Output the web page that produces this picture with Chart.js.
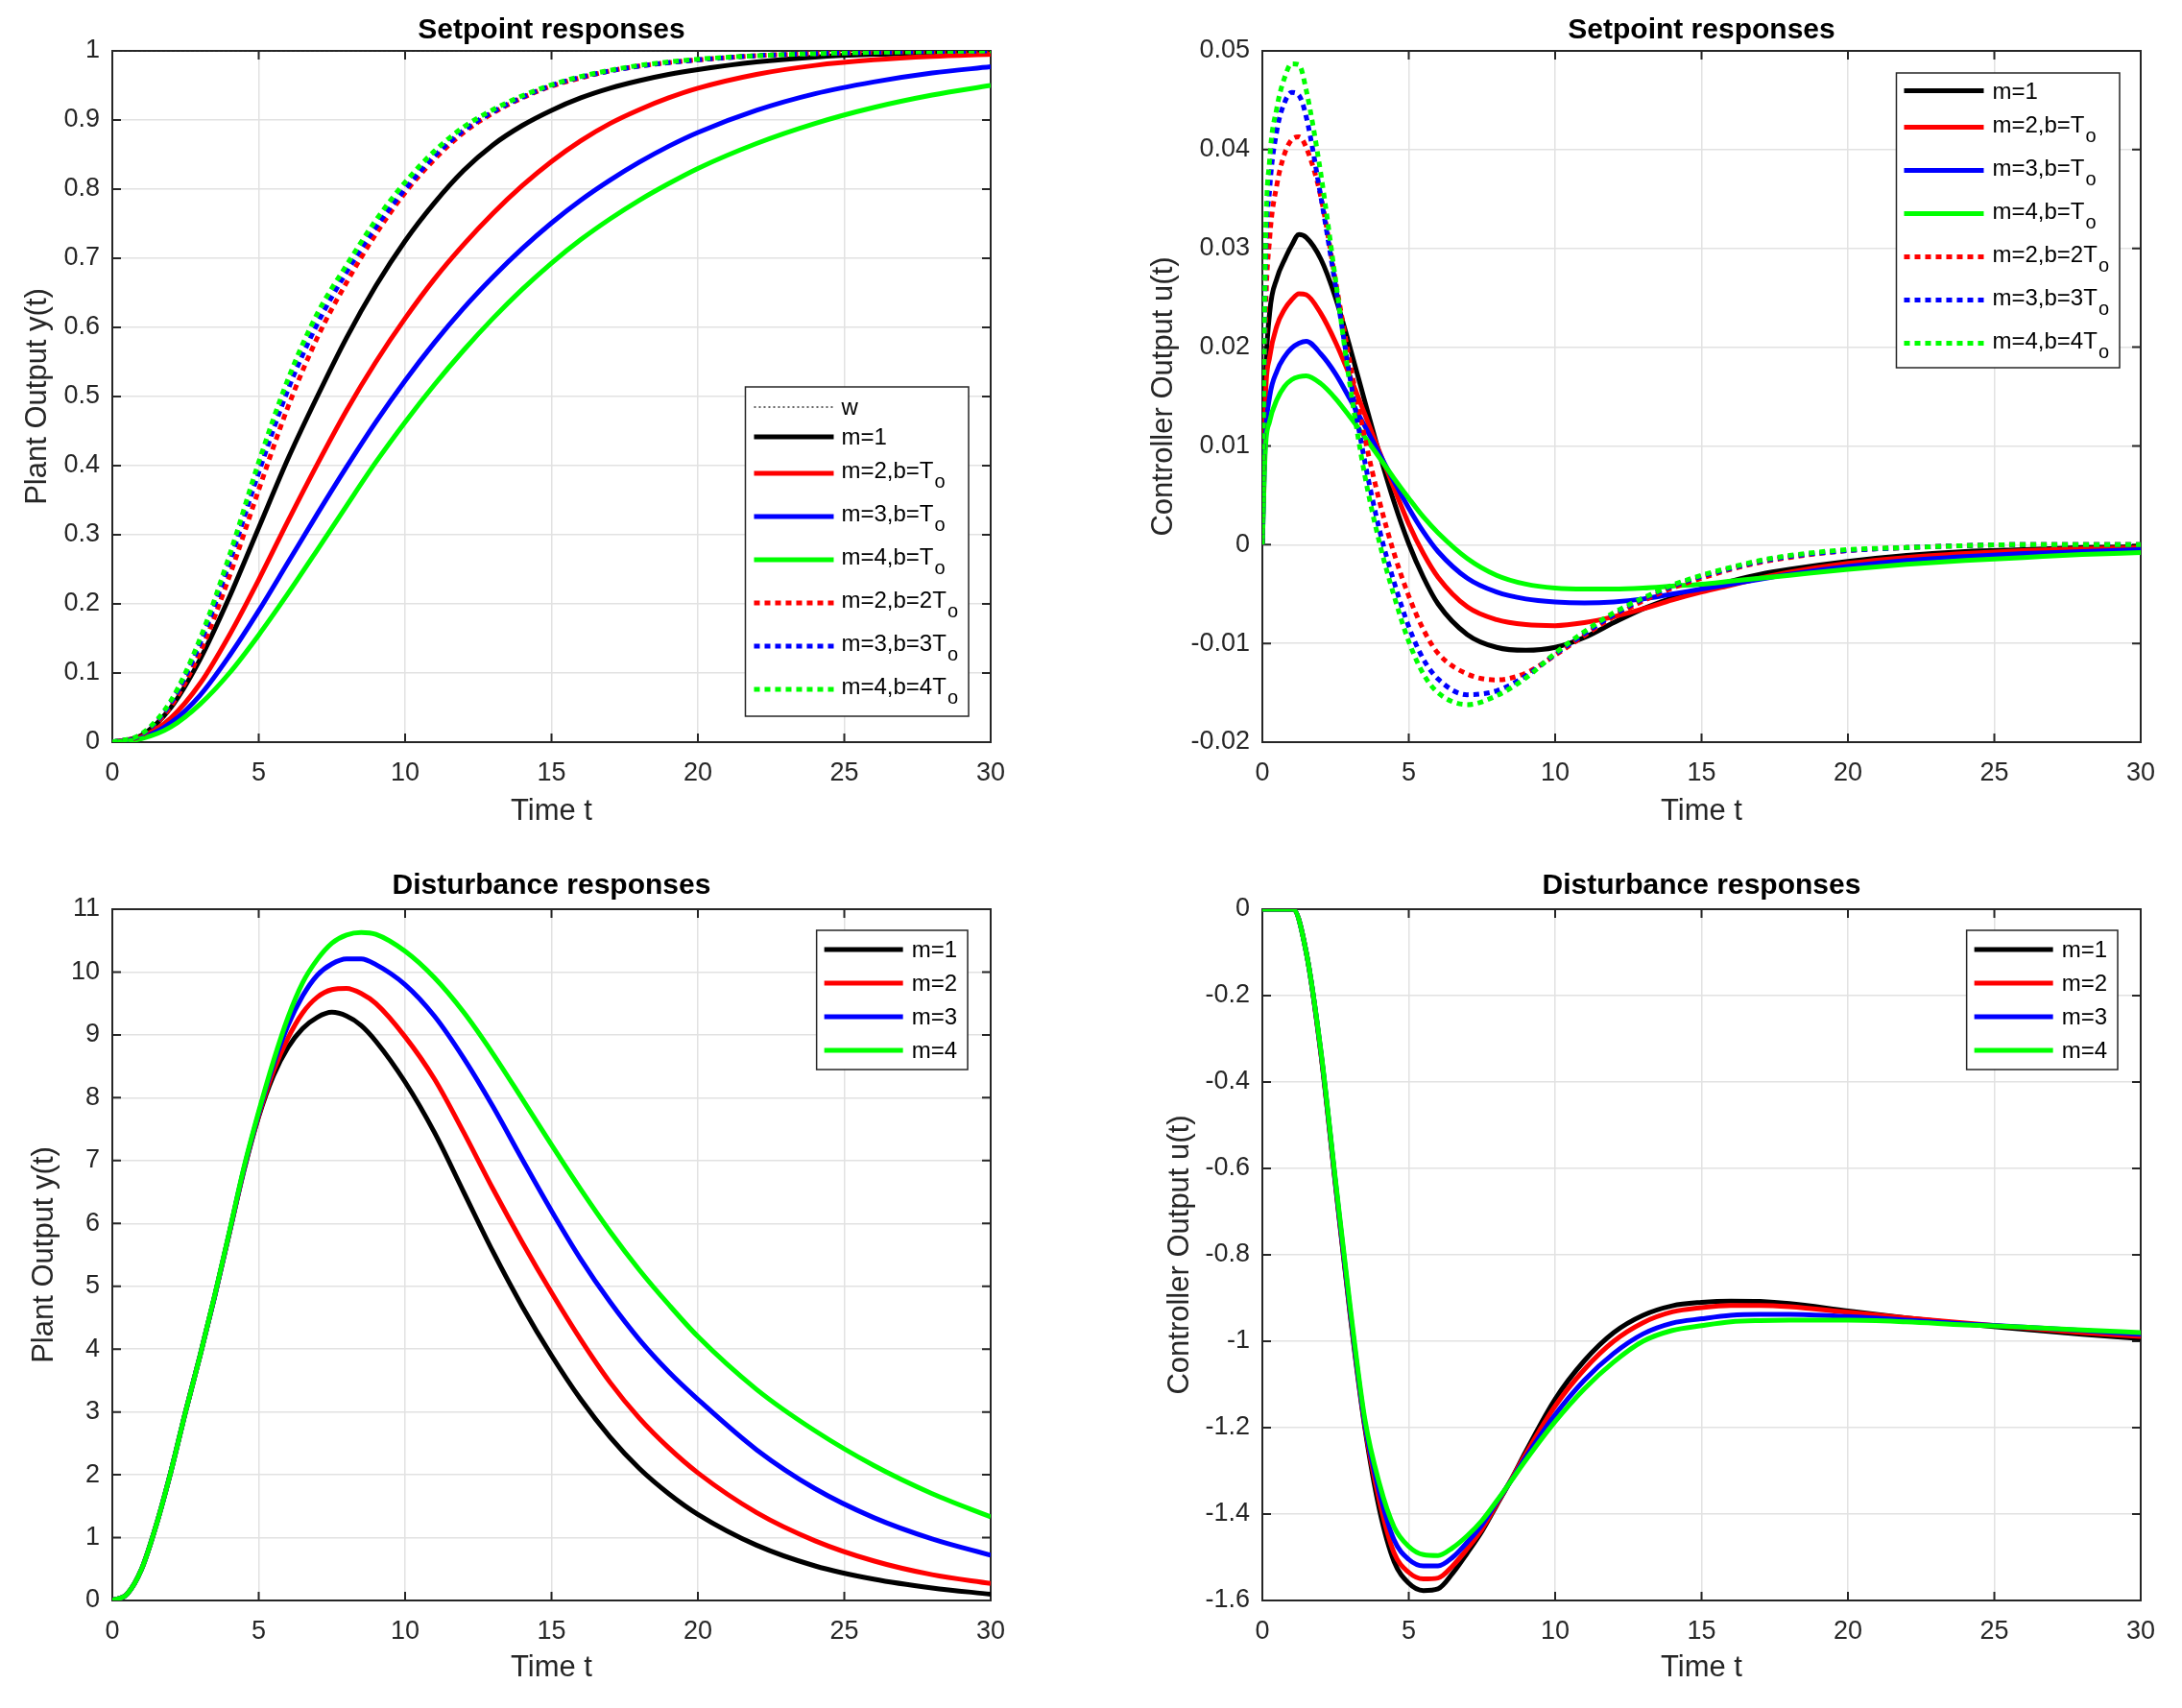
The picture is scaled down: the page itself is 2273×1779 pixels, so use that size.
<!DOCTYPE html>
<html><head><meta charset="utf-8">
<script src="https://cdn.jsdelivr.net/npm/chart.js@4.4.0/dist/chart.umd.min.js"></script>
<style>
html,body{margin:0;padding:0;background:#fff;}
body{width:2273px;height:1779px;position:relative;overflow:hidden;}
canvas{position:absolute;}
</style></head><body>
<canvas id="c1" width="1136" height="889" style="left:0px;top:0px"></canvas>
<canvas id="c2" width="1137" height="889" style="left:1136px;top:0px"></canvas>
<canvas id="c3" width="1136" height="890" style="left:0px;top:889px"></canvas>
<canvas id="c4" width="1137" height="890" style="left:1136px;top:889px"></canvas>
<script>
// ---------------- DATA ----------------
// Setpoint responses: plant output y(t)
const tSet = [0,1,2,3,4,5,6,7,8,9,10,11,12,13,14,15,16,17,18,19,20,22,24,26,28,30];
const ySetW      = [1,1,1,1,1,1,1,1,1,1,1,1,1,1,1,1,1,1,1,1,1,1,1,1,1,1];
const ySetM1     = [0,0.01,0.05,0.12,0.21,0.31,0.41,0.50,0.585,0.66,0.725,0.78,0.827,0.864,0.892,0.914,0.932,0.946,0.957,0.966,0.973,0.984,0.991,0.995,0.997,0.998];
const ySetM2b1   = [0,0.008,0.035,0.085,0.155,0.235,0.32,0.402,0.48,0.55,0.613,0.67,0.72,0.765,0.805,0.84,0.87,0.895,0.915,0.932,0.946,0.966,0.979,0.987,0.992,0.995];
const ySetM3b1   = [0,0.006,0.028,0.068,0.125,0.19,0.26,0.33,0.398,0.463,0.523,0.578,0.628,0.673,0.714,0.751,0.784,0.813,0.839,0.862,0.882,0.914,0.938,0.955,0.968,0.977];
const ySetM4b1   = [0,0.005,0.022,0.055,0.10,0.155,0.215,0.278,0.342,0.405,0.463,0.517,0.567,0.613,0.655,0.693,0.727,0.757,0.784,0.808,0.83,0.866,0.895,0.918,0.936,0.95];
const ySetM2b2   = [0,0.01,0.052,0.13,0.24,0.365,0.485,0.585,0.665,0.735,0.795,0.843,0.882,0.91,0.932,0.949,0.961,0.971,0.978,0.983,0.987,0.993,0.996,0.998,0.999,1.0];
const ySetM3b3   = [0,0.011,0.057,0.143,0.26,0.39,0.51,0.605,0.68,0.745,0.80,0.848,0.885,0.912,0.933,0.95,0.962,0.971,0.978,0.983,0.987,0.993,0.996,0.998,0.999,1.0];
const ySetM4b4   = [0,0.012,0.06,0.15,0.27,0.405,0.525,0.62,0.69,0.755,0.81,0.855,0.89,0.915,0.935,0.951,0.963,0.972,0.979,0.984,0.988,0.993,0.996,0.998,0.999,1.0];

// Setpoint responses: controller output u(t)
const tCtl = [0,0.1,0.25,0.5,0.75,1,1.25,1.5,2,2.5,3,3.5,4,4.5,5,5.5,6,7,8,9,10,11,12,13,14,15,16,17,18,20,22,24,26,28,30];
const uSetM1   = [0,0.016,0.0235,0.027,0.0288,0.0303,0.0314,0.0311,0.0289,0.025,0.0199,0.0145,0.0092,0.0043,0.0001,-0.0033,-0.006,-0.0091,-0.0104,-0.0107,-0.0104,-0.0094,-0.0079,-0.0065,-0.0054,-0.0045,-0.0037,-0.003,-0.0025,-0.0017,-0.0011,-0.0007,-0.0005,-0.0003,-0.0002];
const uSetM2b1 = [0,0.0145,0.019,0.0222,0.0238,0.0248,0.0254,0.0253,0.0234,0.0205,0.017,0.0132,0.0094,0.0057,0.0021,-0.0009,-0.0033,-0.0063,-0.0076,-0.0081,-0.0082,-0.0079,-0.0073,-0.0065,-0.0056,-0.0048,-0.0041,-0.0034,-0.0028,-0.0019,-0.0013,-0.0009,-0.0006,-0.0004,-0.0003];
const uSetM3b1 = [0,0.0105,0.015,0.0176,0.019,0.0199,0.0204,0.0206,0.0193,0.0173,0.0147,0.012,0.0092,0.0064,0.0037,0.0013,-0.0007,-0.0034,-0.0048,-0.0055,-0.0058,-0.0059,-0.0058,-0.0055,-0.005,-0.0045,-0.004,-0.0035,-0.003,-0.0022,-0.0016,-0.0012,-0.0009,-0.0007,-0.0005];
const uSetM4b1 = [0,0.0095,0.0125,0.0147,0.016,0.0167,0.017,0.0171,0.0163,0.0148,0.0129,0.0109,0.0088,0.0067,0.0047,0.0028,0.0012,-0.0014,-0.0031,-0.004,-0.0044,-0.0045,-0.0045,-0.0044,-0.0042,-0.004,-0.0037,-0.0034,-0.0031,-0.0025,-0.002,-0.0016,-0.0013,-0.001,-0.0008];
const uSetM2b2 = [0,0.022,0.031,0.0365,0.0395,0.041,0.0413,0.0402,0.0352,0.0267,0.0183,0.0108,0.0044,-0.0009,-0.0052,-0.0086,-0.011,-0.0131,-0.0137,-0.013,-0.0112,-0.0092,-0.0073,-0.0057,-0.0044,-0.0034,-0.0025,-0.0018,-0.0013,-0.0006,-0.0003,-0.0001,0,0,0];
const uSetM3b3 = [0,0.027,0.036,0.042,0.0447,0.0458,0.0455,0.0433,0.0352,0.0262,0.0168,0.0084,0.0015,-0.0038,-0.0083,-0.0116,-0.0136,-0.0152,-0.0148,-0.0133,-0.0111,-0.009,-0.0071,-0.0055,-0.0042,-0.0032,-0.0024,-0.0017,-0.0012,-0.0006,-0.0003,-0.0001,0,0,0];
const uSetM4b4 = [0,0.029,0.039,0.0443,0.0472,0.0487,0.0486,0.046,0.0375,0.0268,0.016,0.007,0.0002,-0.0052,-0.0098,-0.0131,-0.015,-0.0162,-0.0153,-0.0135,-0.011,-0.0088,-0.0069,-0.0054,-0.0041,-0.0031,-0.0023,-0.0016,-0.0011,-0.0005,-0.0003,-0.0001,0,0,0];

// Disturbance responses: plant output y(t)
const tDist = [0,0.5,1,1.5,2,2.5,3,3.5,4,4.5,5,5.5,6,6.5,7,7.5,8,8.5,9,10,11,12,13,14,15,16,17,18,19,20,22,24,26,28,30];
const yDistM1 = [0,0.1,0.5,1.2,2.05,3.0,3.9,4.85,5.85,6.85,7.7,8.35,8.8,9.1,9.28,9.36,9.3,9.15,8.9,8.25,7.45,6.5,5.55,4.68,3.9,3.2,2.6,2.1,1.7,1.37,0.88,0.55,0.34,0.2,0.1];
const yDistM2 = [0,0.1,0.5,1.2,2.05,3.0,3.9,4.85,5.85,6.87,7.72,8.42,8.95,9.35,9.6,9.72,9.74,9.66,9.5,8.97,8.3,7.45,6.55,5.7,4.9,4.15,3.47,2.9,2.43,2.03,1.4,0.95,0.63,0.41,0.27];
const yDistM3 = [0,0.1,0.5,1.2,2.05,3.0,3.9,4.85,5.86,6.88,7.75,8.52,9.15,9.62,9.95,10.13,10.21,10.21,10.12,9.8,9.3,8.63,7.86,7.02,6.2,5.43,4.75,4.15,3.64,3.2,2.4,1.78,1.32,0.98,0.72];
const yDistM4 = [0,0.1,0.5,1.2,2.05,3.0,3.9,4.86,5.87,6.9,7.78,8.58,9.28,9.83,10.2,10.46,10.59,10.63,10.6,10.33,9.91,9.36,8.7,7.98,7.25,6.54,5.87,5.26,4.71,4.2,3.36,2.7,2.15,1.7,1.33];

// Disturbance responses: controller output u(t)
const tDu = [0,0.5,1,1.05,1.5,2,2.5,3,3.5,4,4.5,5,5.5,6,6.5,7,7.5,8,8.5,9,10,11,12,13,14,15,16,17,18,20,22,24,26,28,30];
const uDistM1 = [0,0,0,0,-0.1,-0.335,-0.64,-0.94,-1.2,-1.39,-1.51,-1.56,-1.577,-1.573,-1.537,-1.49,-1.44,-1.38,-1.32,-1.255,-1.134,-1.045,-0.98,-0.94,-0.918,-0.91,-0.907,-0.908,-0.913,-0.93,-0.946,-0.96,-0.972,-0.984,-0.994];
const uDistM2 = [0,0,0,0,-0.1,-0.333,-0.637,-0.935,-1.195,-1.37,-1.49,-1.535,-1.55,-1.548,-1.52,-1.48,-1.435,-1.378,-1.32,-1.26,-1.15,-1.065,-1.0,-0.957,-0.932,-0.922,-0.917,-0.917,-0.92,-0.933,-0.946,-0.958,-0.969,-0.98,-0.989];
const uDistM3 = [0,0,0,0,-0.1,-0.33,-0.633,-0.93,-1.19,-1.35,-1.46,-1.505,-1.52,-1.52,-1.5,-1.465,-1.425,-1.373,-1.322,-1.268,-1.17,-1.09,-1.028,-0.983,-0.958,-0.948,-0.94,-0.938,-0.938,-0.943,-0.951,-0.96,-0.967,-0.975,-0.984];
const uDistM4 = [0,0,0,0,-0.1,-0.328,-0.628,-0.92,-1.18,-1.33,-1.43,-1.475,-1.494,-1.496,-1.478,-1.45,-1.415,-1.37,-1.323,-1.275,-1.186,-1.11,-1.048,-1.0,-0.975,-0.964,-0.955,-0.952,-0.951,-0.951,-0.955,-0.962,-0.967,-0.974,-0.98];

// Labels and ticks
const labelsSet  = ['w','m=1','m=2,b=T_o','m=3,b=T_o','m=4,b=T_o','m=2,b=2T_o','m=3,b=3T_o','m=4,b=4T_o'];
const labelsCtl  = ['m=1','m=2,b=T_o','m=3,b=T_o','m=4,b=T_o','m=2,b=2T_o','m=3,b=3T_o','m=4,b=4T_o'];
const labelsDist = ['m=1','m=2','m=3','m=4'];
const xTicks   = [0,5,10,15,20,25,30];
const yTicksTL = [0,0.1,0.2,0.3,0.4,0.5,0.6,0.7,0.8,0.9,1];
const yTicksTR = [-0.02,-0.01,0,0.01,0.02,0.03,0.04,0.05];
const yTicksBL = [0,1,2,3,4,5,6,7,8,9,10,11];
const yTicksBR = [-1.6,-1.4,-1.2,-1,-0.8,-0.6,-0.4,-0.2,0];
const titleSet  = 'Setpoint responses';
const titleDist = 'Disturbance responses';
const xLabel  = 'Time t';
const yLabelY = 'Plant Output y(t)';
const yLabelU = 'Controller Output u(t)';

// ---------------- STYLE ----------------
const FONT = '"Liberation Sans", Arial, Helvetica, sans-serif';
const INK = '#262626';
const GRID = '#e2e2e2';
const BLACK = '#000000', RED = '#ff0000', BLUE = '#0000ff', GREEN = '#00ff00';
const LW = 5;
const DOTS = [6,5];

function fmt(v){ const r = Math.round(v*10000)/10000; return String(r === 0 ? 0 : r); }

function ds(label, xs, ys, color, dash, width, n, i){
  return {
    label, data: xs.map((x,k)=>({x, y: ys[k]})),
    borderColor: color, backgroundColor: color, borderWidth: width,
    borderDash: dash, borderCapStyle: 'butt', borderJoinStyle: 'round',
    pointRadius: 0, pointHoverRadius: 0, fill: false,
    cubicInterpolationMode: 'monotone', order: n - i
  };
}

const matlabFrame = {
  id: 'matlabFrame',
  beforeDatasetsDraw(chart){
    const {ctx, chartArea: ca} = chart;
    const x = chart.scales.x, y = chart.scales.y;
    ctx.save();
    ctx.strokeStyle = INK; ctx.lineWidth = 2; ctx.setLineDash([]);
    ctx.strokeRect(ca.left, ca.top, ca.right - ca.left, ca.bottom - ca.top);
    const L = 9;
    ctx.beginPath();
    x.ticks.forEach(t => { const p = x.getPixelForValue(t.value);
      ctx.moveTo(p, ca.bottom); ctx.lineTo(p, ca.bottom - L);
      ctx.moveTo(p, ca.top); ctx.lineTo(p, ca.top + L); });
    y.ticks.forEach(t => { const p = y.getPixelForValue(t.value);
      ctx.moveTo(ca.left, p); ctx.lineTo(ca.left + L, p);
      ctx.moveTo(ca.right, p); ctx.lineTo(ca.right - L, p); });
    ctx.stroke();
    ctx.restore();
  }
};

const matlabLegend = {
  id: 'matlabLegend',
  afterDraw(chart, args, o){
    const ctx = chart.ctx, ca = chart.chartArea;
    const mainFont = '24px ' + FONT, subFont = '20px ' + FONT;
    ctx.save();
    let maxW = 0;
    const rows = chart.data.datasets.map(d => {
      const parts = d.label.split('_');
      ctx.font = mainFont; const w = ctx.measureText(parts[0]).width;
      let sw = 0;
      if (parts[1]) { ctx.font = subFont; sw = ctx.measureText(parts[1]).width; }
      maxW = Math.max(maxW, w + sw + 1);
      return {main: parts[0], sub: parts[1], w, h: parts[1] ? o.rowSub : o.rowPlain, d};
    });
    const boxW = o.textX + maxW + o.padRight;
    const boxH = o.pad * 2 + rows.reduce((a, r) => a + r.h, 0);
    const x0 = ca.right - o.right - boxW;
    const y0 = (o.top != null) ? ca.top + o.top : ca.bottom - o.bottom - boxH;
    ctx.fillStyle = '#fff'; ctx.fillRect(x0, y0, boxW, boxH);
    ctx.strokeStyle = INK; ctx.lineWidth = 1.5; ctx.setLineDash([]);
    ctx.strokeRect(x0, y0, boxW, boxH);
    let y = y0 + o.pad;
    rows.forEach(r => {
      const cy = y + r.h / 2;
      ctx.beginPath();
      ctx.setLineDash(r.d.borderDash || []);
      ctx.lineWidth = r.d.borderWidth; ctx.strokeStyle = r.d.borderColor; ctx.lineCap = 'butt';
      ctx.moveTo(x0 + o.lineX0, cy); ctx.lineTo(x0 + o.lineX1, cy); ctx.stroke();
      ctx.setLineDash([]);
      ctx.fillStyle = '#000'; ctx.textAlign = 'left'; ctx.textBaseline = 'alphabetic';
      const base = cy + (r.sub ? 5 : 8);
      ctx.font = mainFont; ctx.fillText(r.main, x0 + o.textX, base);
      if (r.sub) { ctx.font = subFont; ctx.fillText(r.sub, x0 + o.textX + r.w + 1, base + 10); }
      y += r.h;
    });
    ctx.restore();
  }
};

function makeChart(id, cfg){
  const cv = document.getElementById(id);
  const W = cv.width, H = cv.height;
  return new Chart(cv, {
    type: 'line',
    data: { datasets: cfg.datasets },
    plugins: [matlabFrame, matlabLegend],
    options: {
      responsive: false, animation: false, devicePixelRatio: 1,
      layout: { padding: { left: 0, top: 0, bottom: 0, right: W - cfg.areaRight } },
      plugins: {
        legend: { display: false }, tooltip: { enabled: false },
        title: { display: true, text: cfg.title, color: '#000', fullSize: false,
          font: { family: FONT, size: 30, weight: 'bold' },
          padding: { top: cfg.titleTop, bottom: cfg.areaTop - 36 - cfg.titleTop } },
        matlabLegend: cfg.legend
      },
      scales: {
        x: { type: 'linear', min: 0, max: 30,
          afterBuildTicks: s => { s.ticks = xTicks.map(v => ({value: v})); },
          afterFit: s => { s.height = H - cfg.areaBottom; },
          ticks: { font: { family: FONT, size: 27 }, color: INK, padding: 16, autoSkip: false, maxRotation: 0, callback: v => fmt(v) },
          grid: { color: GRID, lineWidth: 1.5, drawTicks: false },
          border: { display: false },
          title: { display: true, text: xLabel, color: INK, font: { family: FONT, size: 31 },
            padding: { top: 0, bottom: (H - cfg.xTitleY) - 18.6 } } },
        y: { type: 'linear', min: cfg.yMin, max: cfg.yMax,
          afterBuildTicks: s => { s.ticks = cfg.yTicks.map(v => ({value: v})); },
          afterFit: s => { s.width = cfg.areaLeft; },
          ticks: { font: { family: FONT, size: 27 }, color: INK, padding: 13, autoSkip: false, callback: v => fmt(v) },
          grid: { color: GRID, lineWidth: 1.5, drawTicks: false },
          border: { display: false },
          title: { display: true, text: cfg.yLabel, color: INK, font: { family: FONT, size: 31 },
            padding: { top: cfg.yTitleX - 18.6, bottom: 0 } } }
      }
    }
  });
}

// Top-left
const setSeries = [ySetW, ySetM1, ySetM2b1, ySetM3b1, ySetM4b1, ySetM2b2, ySetM3b3, ySetM4b4];
const setColors = ['#333333', BLACK, RED, BLUE, GREEN, RED, BLUE, GREEN];
const setDash   = [[2,3], [], [], [], [], DOTS, DOTS, DOTS];
const setWidth  = [1.5, LW, LW, LW, LW, LW, LW, LW];
makeChart('c1', {
  title: titleSet, yLabel: yLabelY, yMin: 0, yMax: 1, yTicks: yTicksTL,
  areaLeft: 117, areaRight: 1032, areaTop: 53, areaBottom: 773, titleTop: 14, xTitleY: 845, yTitleX: 39,
  datasets: setSeries.map((s, i) => ds(labelsSet[i], tSet, s, setColors[i], setDash[i], setWidth[i], setSeries.length, i)),
  legend: { right: 23, bottom: 27, pad: 5.5, rowPlain: 31, rowSub: 45, lineX0: 9, lineX1: 92, textX: 100, padRight: 11 }
});

// Top-right
const ctlSeries = [uSetM1, uSetM2b1, uSetM3b1, uSetM4b1, uSetM2b2, uSetM3b3, uSetM4b4];
const ctlColors = [BLACK, RED, BLUE, GREEN, RED, BLUE, GREEN];
const ctlDash   = [[], [], [], [], DOTS, DOTS, DOTS];
makeChart('c2', {
  title: titleSet, yLabel: yLabelU, yMin: -0.02, yMax: 0.05, yTicks: yTicksTR,
  areaLeft: 179, areaRight: 1094, areaTop: 53, areaBottom: 773, titleTop: 14, xTitleY: 845, yTitleX: 76,
  datasets: ctlSeries.map((s, i) => ds(labelsCtl[i], tCtl, s, ctlColors[i], ctlDash[i], LW, ctlSeries.length, i)),
  legend: { right: 22, top: 23, pad: 3, rowPlain: 31, rowSub: 45, lineX0: 8, lineX1: 91, textX: 100, padRight: 11 }
});

// Bottom-left
const distSeries = [yDistM1, yDistM2, yDistM3, yDistM4];
const distColors = [BLACK, RED, BLUE, GREEN];
makeChart('c3', {
  title: titleDist, yLabel: yLabelY, yMin: 0, yMax: 11, yTicks: yTicksBL,
  areaLeft: 117, areaRight: 1032, areaTop: 58, areaBottom: 778, titleTop: 16, xTitleY: 848, yTitleX: 46,
  datasets: distSeries.map((s, i) => ds(labelsDist[i], tDist, s, distColors[i], [], LW, distSeries.length, i)),
  legend: { right: 24, top: 22, pad: 2.5, rowPlain: 35, rowSub: 45, lineX0: 8, lineX1: 90, textX: 99, padRight: 10 }
});

// Bottom-right
const duSeries = [uDistM1, uDistM2, uDistM3, uDistM4];
makeChart('c4', {
  title: titleDist, yLabel: yLabelU, yMin: -1.6, yMax: 0, yTicks: yTicksBR,
  areaLeft: 179, areaRight: 1094, areaTop: 58, areaBottom: 778, titleTop: 16, xTitleY: 848, yTitleX: 93,
  datasets: duSeries.map((s, i) => ds(labelsDist[i], tDu, s, distColors[i], [], LW, duSeries.length, i)),
  legend: { right: 24, top: 22, pad: 2.5, rowPlain: 35, rowSub: 45, lineX0: 8, lineX1: 90, textX: 99, padRight: 10 }
});
</script>
</body></html>
